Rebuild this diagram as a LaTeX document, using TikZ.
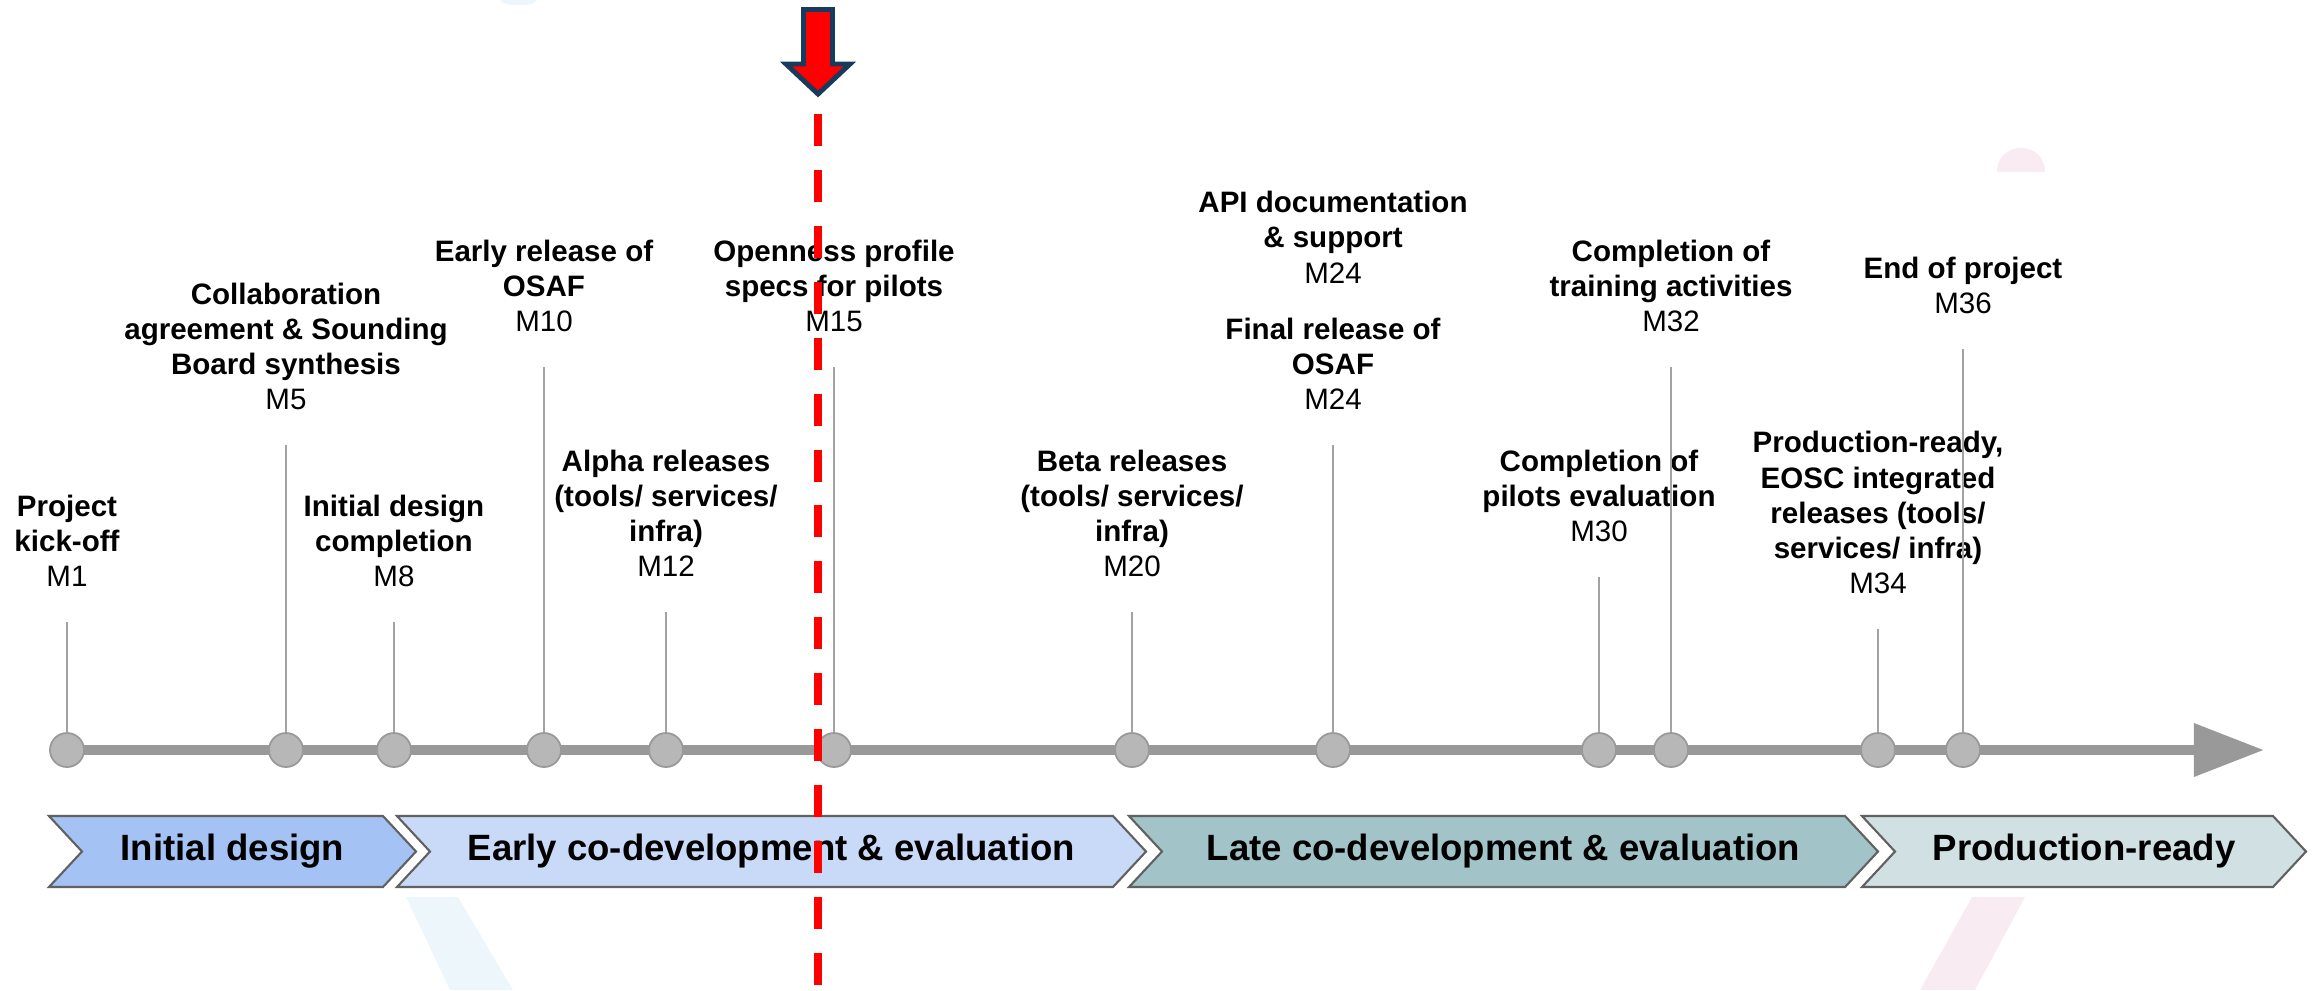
\documentclass[tikz,border=0pt]{standalone}
\usepackage{fontspec}
\setmainfont{Liberation Sans}
\usetikzlibrary{positioning,arrows.meta}
\definecolor{axisgray}{HTML}{999999}
\definecolor{dotgray}{HTML}{B7B7B7}
\definecolor{stemgray}{HTML}{A3A3A3}
\definecolor{phaseA}{HTML}{A4C2F4}
\definecolor{phaseB}{HTML}{C9DAF8}
\definecolor{phaseC}{HTML}{A2C4C9}
\definecolor{phaseD}{HTML}{D0E0E3}
\definecolor{navy}{HTML}{163B5C}
\definecolor{wmblue}{HTML}{EDF6FA}
\definecolor{wmpink}{HTML}{F8EBF2}
\begin{document}
\begin{tikzpicture}[x=0.01cm,y=-0.01cm,line join=round,
  dot/.style={circle,draw=axisgray,fill=dotgray,line width=0.5pt,minimum size=0.34cm,inner sep=0pt},
  lbl/.style={align=center,inner sep=0pt,font=\fontsize{8.4}{10}\selectfont\bfseries},
  stem/.style={draw=stemgray,line width=0.6pt},
  phase/.style={draw=black!62,line width=0.6pt,line join=miter},
  phasetxt/.style={inner sep=0pt,font=\fontsize{10.4}{12}\selectfont\bfseries}]
\useasboundingbox (0,0) rectangle (2315,990);
% faint watermark pieces
\fill[wmblue] (500,0) .. controls (503,7) and (534,7) .. (537,0) -- cycle;
\fill[wmblue] (406,897) -- (458,897) -- (513,990) -- (450,990) -- cycle;
\fill[wmpink] (1997,172) .. controls (1997,140) and (2045,140) .. (2045,172) -- cycle;
\fill[wmpink] (1972,897) -- (2025,897) -- (1975,990) -- (1920,990) -- cycle;
% phases
\foreach \a/\b/\c/\txt [count=\i] in {49/383/phaseA/{Initial design},
  397/1113/phaseB/{Early co-development \& evaluation},
  1129/1845/phaseC/{Late co-development \& evaluation},
  1862/2273/phaseD/{Production-ready}}{
  \draw[phase,fill=\c] (\a,816) -- (\b,816) -- (\b+33,851.5) -- (\b,887) -- (\a,887) -- (\a+33,851.5) -- cycle;
  \node[phasetxt] (ph\i) at ({(\a+33+\b)/2},851.5) {\txt};
}
% time axis
\coordinate (start) at (67,750);
\coordinate (tip) at (2264,750);
\draw[axisgray,line width=2.85pt,-{Triangle[length=0.7cm,width=0.51cm]}] (start) -- (tip);
% milestones
\foreach \n/\x/\top/\txt in {1/67/622/{Project\\kick-off},
  5/286/445/{Collaboration\\agreement \& Sounding\\Board synthesis},
  8/394/622/{Initial design\\completion},
  10/544/367/{Early release of\\OSAF},
  12/666/612/{Alpha releases\\(tools/ services/\\infra)},
  15/834/367/{Openness profile\\specs for pilots},
  20/1132/612/{Beta releases\\(tools/ services/\\infra)},
  24/1333/445/{Final release of\\OSAF},
  30/1599/577/{Completion of\\pilots evaluation},
  32/1671/367/{Completion of\\training activities},
  34/1878/629/{Production-ready,\\EOSC integrated\\releases (tools/\\services/ infra)},
  36/1963/349/{End of project}}{
  \node[dot] (dot\n) at (\x,750) {};
  \coordinate (stem\n) at (\x,\top);
  \draw[stem] (dot\n) -- (stem\n);
  \node[lbl,above=0.345cm of stem\n] (lab\n) {\txt\\{\normalfont M\n}};
}
\node[lbl,above=0.335cm of lab24] (api) {API documentation\\\& support\\{\normalfont M24}};
% current month marker
\coordinate (nowtop) at (818,114);
\coordinate (nowbot) at (818,990);
\draw[red,line width=2.3pt,dash pattern=on 9.1pt off 6.8pt] (nowtop) -- (nowbot);
\draw[navy,fill=red,line width=1.4pt,line join=miter] (803.5,9.5) -- (832.5,9.5) -- (832.5,64) -- (850,64)
  -- (818,94) -- (786,64) -- (803.5,64) -- cycle;
\end{tikzpicture}
\end{document}
